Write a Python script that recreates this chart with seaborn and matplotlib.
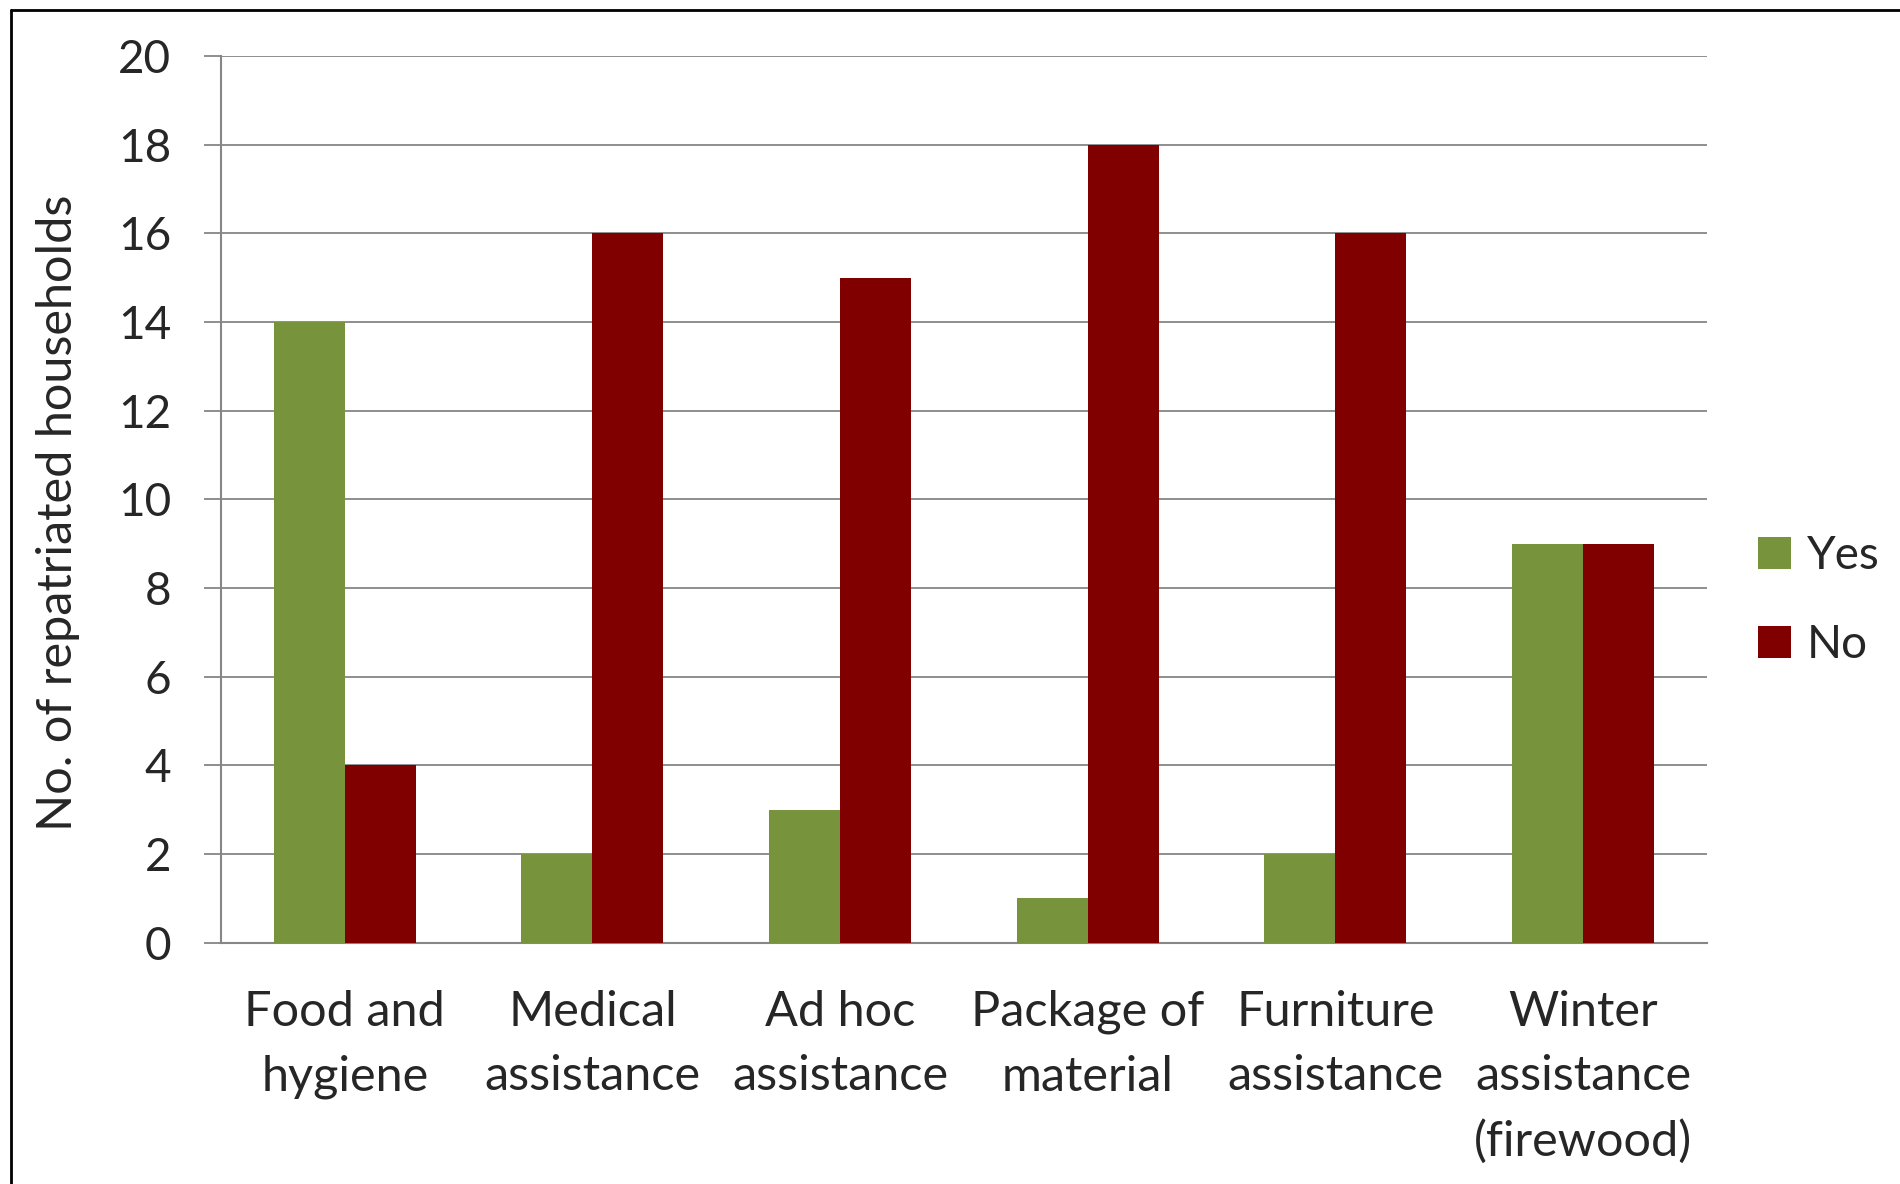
import pandas as pd
import seaborn as sns
import matplotlib.pyplot as plt
from matplotlib.patches import Patch
from matplotlib.lines import Line2D

# chart values
categories = ["Food and\nhygiene", "Medical\nassistance", "Ad hoc\nassistance",
              "Package of\nmaterial", "Furniture\nassistance", "Winter\nassistance\n(firewood)"]
yes_counts = [14, 2, 3, 1, 2, 9]
no_counts = [4, 16, 15, 18, 16, 9]
series_names = ["Yes", "No"]
series_colors = ["#77933C", "#800000"]

df = pd.DataFrame({
    "category": categories * 2,
    "answer": ["Yes"] * len(categories) + ["No"] * len(categories),
    "count": yes_counts + no_counts,
})

sns.set_style("white")
plt.rcParams['font.family'] = ['Lato', 'DejaVu Sans']
grid_gray = "#868686"
fs = 33
fs_big = 35

fig = plt.figure(figsize=(19, 11.84), dpi=100)
ax = fig.add_axes([0.1163, 0.2038, 0.782, 0.7489])

sns.barplot(data=df, x="category", y="count", hue="answer", hue_order=series_names,
            palette=series_colors, saturation=1, width=0.573, linewidth=0,
            legend=False, ax=ax, zorder=3)

ax.set_xlim(-0.5, len(categories) - 0.5)
ax.set_ylim(0, 20)
ax.set_yticks(range(0, 21, 2))
ax.yaxis.grid(True, color=grid_gray, linewidth=1.3, zorder=0)
ax.set_axisbelow(True)

# category boundary ticks
ax.set_xticks([i - 0.5 for i in range(len(categories) + 1)], minor=True)
ax.tick_params(axis="x", which="minor", length=12, width=1.3, color=grid_gray, direction="out")
ax.tick_params(axis="x", which="major", length=0, pad=34, labelsize=fs_big)
ax.tick_params(axis="y", which="major", length=12, width=1.3, color=grid_gray,
               direction="out", pad=24, labelsize=fs, left=True)

for s in ["top", "right"]:
    ax.spines[s].set_visible(False)
for s in ["left", "bottom"]:
    ax.spines[s].set_color(grid_gray)
    ax.spines[s].set_linewidth(1.5)

ax.set_xlabel("")
ax.set_ylabel("No. of repatriated households", fontsize=fs_big, labelpad=27)
ax.yaxis.label.set_y(0.485)
for lbl in ax.get_xticklabels():
    lbl.set_horizontalalignment("center")
    lbl.set_verticalalignment("top")
    lbl.set_linespacing(1.57)

handles = [Patch(facecolor=c, edgecolor="none", label=n) for n, c in zip(series_names, series_colors)]
fig.legend(handles=handles, loc="upper left", bbox_to_anchor=(0.925, 0.548),
           bbox_transform=fig.transFigure, frameon=False, fontsize=fs,
           handlelength=0.72, handleheight=0.72, handletextpad=0.35,
           labelspacing=1.02, borderpad=0, borderaxespad=0)

# outer frame (only left and top edges visible in the original)
fig.add_artist(Line2D([11 / 1900, 11 / 1900], [0, 1 - 10 / 1184], transform=fig.transFigure,
                      color="black", linewidth=2))
fig.add_artist(Line2D([11 / 1900, 1], [1 - 10 / 1184, 1 - 10 / 1184], transform=fig.transFigure,
                      color="black", linewidth=2))

fig.savefig("out.png", dpi=100)
